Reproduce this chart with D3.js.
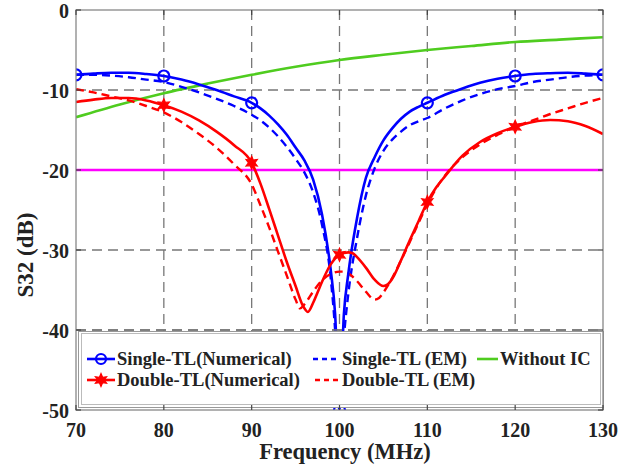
<!DOCTYPE html>
<html>
<head>
<meta charset="utf-8">
<script src="https://cdn.jsdelivr.net/npm/d3@7"></script>
<style>
  html, body { margin: 0; padding: 0; background: #fff; }
  svg { display: block; }
</style>
</head>
<body>
<svg id="chart" width="632" height="469"></svg>
<script>
// Frequency sweeps (MHz) and S32 responses (dB)
const freqSingleNum = [70,72,74,76,78,80,82,84,86,88,90,91,92,93,94,95,96,97,98,99,99.5,100,100.5,101,102,103,104,105,106,107,108,109,110,112,114,116,118,120,122,124,126,128,130];
const s32SingleNum  = [-8.1,-7.95,-7.85,-7.85,-8.0,-8.25,-8.7,-9.3,-10.0,-10.8,-11.6,-12.3,-13.2,-14.3,-15.6,-17.2,-18.8,-21.2,-25.5,-32.5,-38,-50,-38,-33,-26,-21,-18.4,-16.3,-14.8,-13.6,-12.7,-12.1,-11.6,-10.6,-9.8,-9.1,-8.6,-8.25,-8.0,-7.9,-7.85,-7.95,-8.1];

const freqSingleEM = [70,72,74,76,78,80,82,84,86,88,90,91,92,93,94,95,96,97,98,99,99.5,100,100.5,101,102,103,104,105,106,107,108,109,110,112,114,116,118,120,122,124,126,128,130];
const s32SingleEM  = [-8.1,-8.1,-8.2,-8.4,-8.7,-9.0,-9.6,-10.3,-11.1,-12.0,-13.1,-13.8,-14.7,-15.8,-17.1,-18.6,-20.3,-22.8,-26.8,-33.5,-40,-50,-41,-35.5,-28.5,-23.2,-19.8,-17.6,-16.2,-15.2,-14.4,-13.9,-13.5,-12.3,-11.3,-10.5,-9.9,-9.5,-9.0,-8.7,-8.4,-8.2,-8.1];

const freqDoubleNum = [70,72,74,76,78,80,82,84,86,88,90,91,92,93,94,95,95.8,96.4,97,97.5,98,99,100,101,101.5,102,103,104,105,105.5,106,107,108,109,110,111,112,114,116,118,120,122,124,126,128,130];
const s32DoubleNum  = [-11.5,-11.2,-11.0,-11.0,-11.3,-11.9,-12.7,-13.8,-15.2,-16.9,-19.1,-21.7,-24.9,-28.2,-31.5,-34.5,-36.9,-37.75,-36.6,-35.3,-34.0,-31.8,-30.6,-30.3,-30.4,-30.9,-32.2,-33.7,-34.5,-34.3,-33.6,-31.3,-28.8,-26.4,-24.0,-22.2,-20.8,-18.2,-16.5,-15.4,-14.6,-14.0,-13.75,-13.9,-14.5,-15.5];

const freqDoubleEM = [70,72,74,76,78,80,82,84,86,88,90,91,92,93,94,95,95.5,96,97,98,99,100,100.6,101,102,103,104,104.5,105,106,107,108,109,110,111,112,114,116,118,120,122,124,126,128,130];
const s32DoubleEM  = [-9.9,-10.3,-10.8,-11.3,-12.0,-12.8,-14.0,-15.5,-17.2,-19.3,-21.8,-24.4,-27.2,-30.2,-33.2,-36.2,-37.3,-36.8,-35.2,-33.8,-33.0,-32.7,-32.7,-32.9,-33.9,-35.2,-36.2,-36.0,-35.3,-33.5,-31.3,-29.0,-26.6,-24.3,-22.3,-20.7,-18.4,-16.8,-15.6,-14.6,-13.8,-13.0,-12.3,-11.6,-11.0];

const freqNoIC = [70,75,80,85,90,95,100,105,110,115,120,125,130];
const s32NoIC  = [-13.4,-11.8,-10.4,-9.2,-8.1,-7.1,-6.25,-5.6,-5.0,-4.5,-4.0,-3.7,-3.4];

const freqRef = [70,130];
const s32Ref  = [-20,-20];

// Frequencies carrying markers on the numerical curves
const markSingle = [70,80,90,100,110,120,130];
const markDouble = [80,90,100,110,120];

const xTicks = [70,80,90,100,110,120,130];
const yTicks = [0,-10,-20,-30,-40,-50];

const legendLabels = ["Single-TL(Numerical)","Single-TL (EM)","Without IC","Double-TL(Numerical)","Double-TL (EM)"];

const FONT = '"Liberation Serif", "Times New Roman", serif';
const svg = d3.select("#chart");
const L = 76, R = 603, T = 10, B = 410;
const x = d3.scaleLinear().domain([70,130]).range([L,R]);
const y = d3.scaleLinear().domain([-50,0]).range([B,T]);

const BLUE = "#0000ff", RED = "#ff0000", GREEN = "#4fcc1f", MAGENTA = "#ff00ff", GRID = "#777";

function label(sel, size) {
  return sel.style("font-family", FONT).style("font-weight", "bold")
    .style("font-size", size + "px").style("fill", "#222");
}

svg.append("defs").append("clipPath").attr("id","plotClip")
  .append("rect").attr("x",L).attr("y",T).attr("width",R-L).attr("height",B-T);

// dashed grid
const grid = svg.append("g");
grid.selectAll("line.v").data(xTicks.slice(1,-1)).join("line")
  .attr("x1",d=>x(d)).attr("x2",d=>x(d)).attr("y1",T).attr("y2",B)
  .attr("stroke",GRID).attr("stroke-width",1.3).attr("stroke-dasharray","10,6");
grid.selectAll("line.h").data(yTicks.slice(1,-1)).join("line")
  .attr("x1",L).attr("x2",R).attr("y1",d=>y(d)).attr("y2",d=>y(d))
  .attr("stroke",GRID).attr("stroke-width",1.3).attr("stroke-dasharray","10,6");

const plot = svg.append("g").attr("clip-path","url(#plotClip)");
const line = d3.line().x(d=>x(d[0])).y(d=>y(d[1])).curve(d3.curveMonotoneX);
const zip = (f,v) => f.map((d,i)=>[d,v[i]]);

function drawSeries(f, v, color, width, dash) {
  plot.append("path").datum(zip(f,v))
    .attr("d",line).attr("fill","none").attr("stroke",color)
    .attr("stroke-width",width).attr("stroke-dasharray",dash||null)
    .attr("stroke-linejoin","round");
}

drawSeries(freqNoIC, s32NoIC, GREEN, 2.6);
drawSeries(freqRef, s32Ref, MAGENTA, 2.6);
drawSeries(freqSingleEM, s32SingleEM, BLUE, 2.4, "8,5");
drawSeries(freqDoubleEM, s32DoubleEM, RED, 2.4, "8,5");
drawSeries(freqSingleNum, s32SingleNum, BLUE, 2.6);
drawSeries(freqDoubleNum, s32DoubleNum, RED, 2.6);

const valueAt = (f,v,q) => v[f.indexOf(q)];
// six-pointed asterisk-like star
const starPath = (() => {
  const pts = [];
  for (let i = 0; i < 12; i++) {
    const a = Math.PI / 6 * i - Math.PI / 2;
    const r = i % 2 === 0 ? 6.5 : 3.2;
    pts.push([r * Math.cos(a), r * Math.sin(a)]);
  }
  return "M" + pts.map(p => p.join(",")).join("L") + "Z";
})();

plot.selectAll("circle.mk").data(markSingle).join("circle")
  .attr("cx",d=>x(d)).attr("cy",d=>y(valueAt(freqSingleNum,s32SingleNum,d)))
  .attr("r",5.5).attr("fill","none").attr("stroke",BLUE).attr("stroke-width",2.2);
plot.selectAll("path.mk").data(markDouble).join("path")
  .attr("transform",d=>`translate(${x(d)},${y(valueAt(freqDoubleNum,s32DoubleNum,d))})`)
  .attr("d",starPath).attr("fill",RED).attr("stroke",RED).attr("stroke-width",1.2);

// legend
const lg = svg.append("g");
lg.append("rect").attr("x",78.5).attr("y",331.5).attr("width",525).attr("height",76)
  .attr("fill","#fff").attr("stroke","#999").attr("stroke-width",1);
lg.append("rect").attr("x",81.5).attr("y",333.5).attr("width",519).attr("height",71)
  .attr("fill","none").attr("stroke","#bbb").attr("stroke-width",1);
// -40 gridline sits on the legend's top edge
svg.append("line").attr("x1",L).attr("x2",R).attr("y1",y(-40)).attr("y2",y(-40))
  .attr("stroke",GRID).attr("stroke-width",1.3).attr("stroke-dasharray","10,6");

const rows = [
  {x0:87, x1:115, tx:117, cy:359, color:BLUE, dash:null, mark:"circle", label:legendLabels[0]},
  {x0:313, x1:336, tx:342, cy:359, color:BLUE, dash:"5,4", mark:null, label:legendLabels[1]},
  {x0:477, x1:498, tx:500, cy:359, color:GREEN, dash:null, mark:null, label:legendLabels[2]},
  {x0:87, x1:115, tx:117, cy:380, color:RED, dash:null, mark:"star", label:legendLabels[3]},
  {x0:315, x1:338, tx:342, cy:380, color:RED, dash:"5,4", mark:null, label:legendLabels[4]}
];
rows.forEach(r => {
  lg.append("line").attr("x1",r.x0).attr("x2",r.x1).attr("y1",r.cy).attr("y2",r.cy)
    .attr("stroke",r.color).attr("stroke-width",2.6).attr("stroke-dasharray",r.dash);
  if (r.mark === "circle") {
    lg.append("circle").attr("cx",(r.x0+r.x1)/2).attr("cy",r.cy).attr("r",5)
      .attr("fill","none").attr("stroke",r.color).attr("stroke-width",2.2);
  } else if (r.mark === "star") {
    lg.append("path").attr("transform",`translate(${(r.x0+r.x1)/2},${r.cy})`)
      .attr("d",starPath).attr("fill",r.color).attr("stroke",r.color).attr("stroke-width",1.2);
  }
  label(lg.append("text").attr("x",r.tx).attr("y",r.cy+6), 18.5).text(r.label);
});

// frame
svg.append("rect").attr("x",L).attr("y",T).attr("width",R-L).attr("height",B-T)
  .attr("fill","none").attr("stroke","#888").attr("stroke-width",1.3);

// inward ticks
const tk = svg.append("g").attr("stroke","#444").attr("stroke-width",1.2);
xTicks.forEach(t => {
  tk.append("line").attr("x1",x(t)).attr("x2",x(t)).attr("y1",B).attr("y2",B-5);
  tk.append("line").attr("x1",x(t)).attr("x2",x(t)).attr("y1",T).attr("y2",T+5);
});
yTicks.forEach(t => {
  tk.append("line").attr("x1",L).attr("x2",L+5).attr("y1",y(t)).attr("y2",y(t));
  tk.append("line").attr("x1",R).attr("x2",R-5).attr("y1",y(t)).attr("y2",y(t));
});

// tick labels
label(svg.append("g").selectAll("text").data(xTicks).join("text")
  .attr("x",d=>x(d)).attr("y",437).attr("text-anchor","middle"), 20)
  .text(d=>d);
label(svg.append("g").selectAll("text").data(yTicks).join("text")
  .attr("x",69).attr("y",d=>y(d)+7.5).attr("text-anchor","end"), 20)
  .text(d=>d===0 ? "0" : "-" + Math.abs(d));

// axis titles
label(svg.append("text").attr("x",345).attr("y",459).attr("text-anchor","middle"), 22.5)
  .text("Frequency (MHz)");
label(svg.append("text").attr("transform","translate(33,255) rotate(-90)")
  .attr("text-anchor","middle"), 23).text("S32 (dB)");
</script>
</body>
</html>
